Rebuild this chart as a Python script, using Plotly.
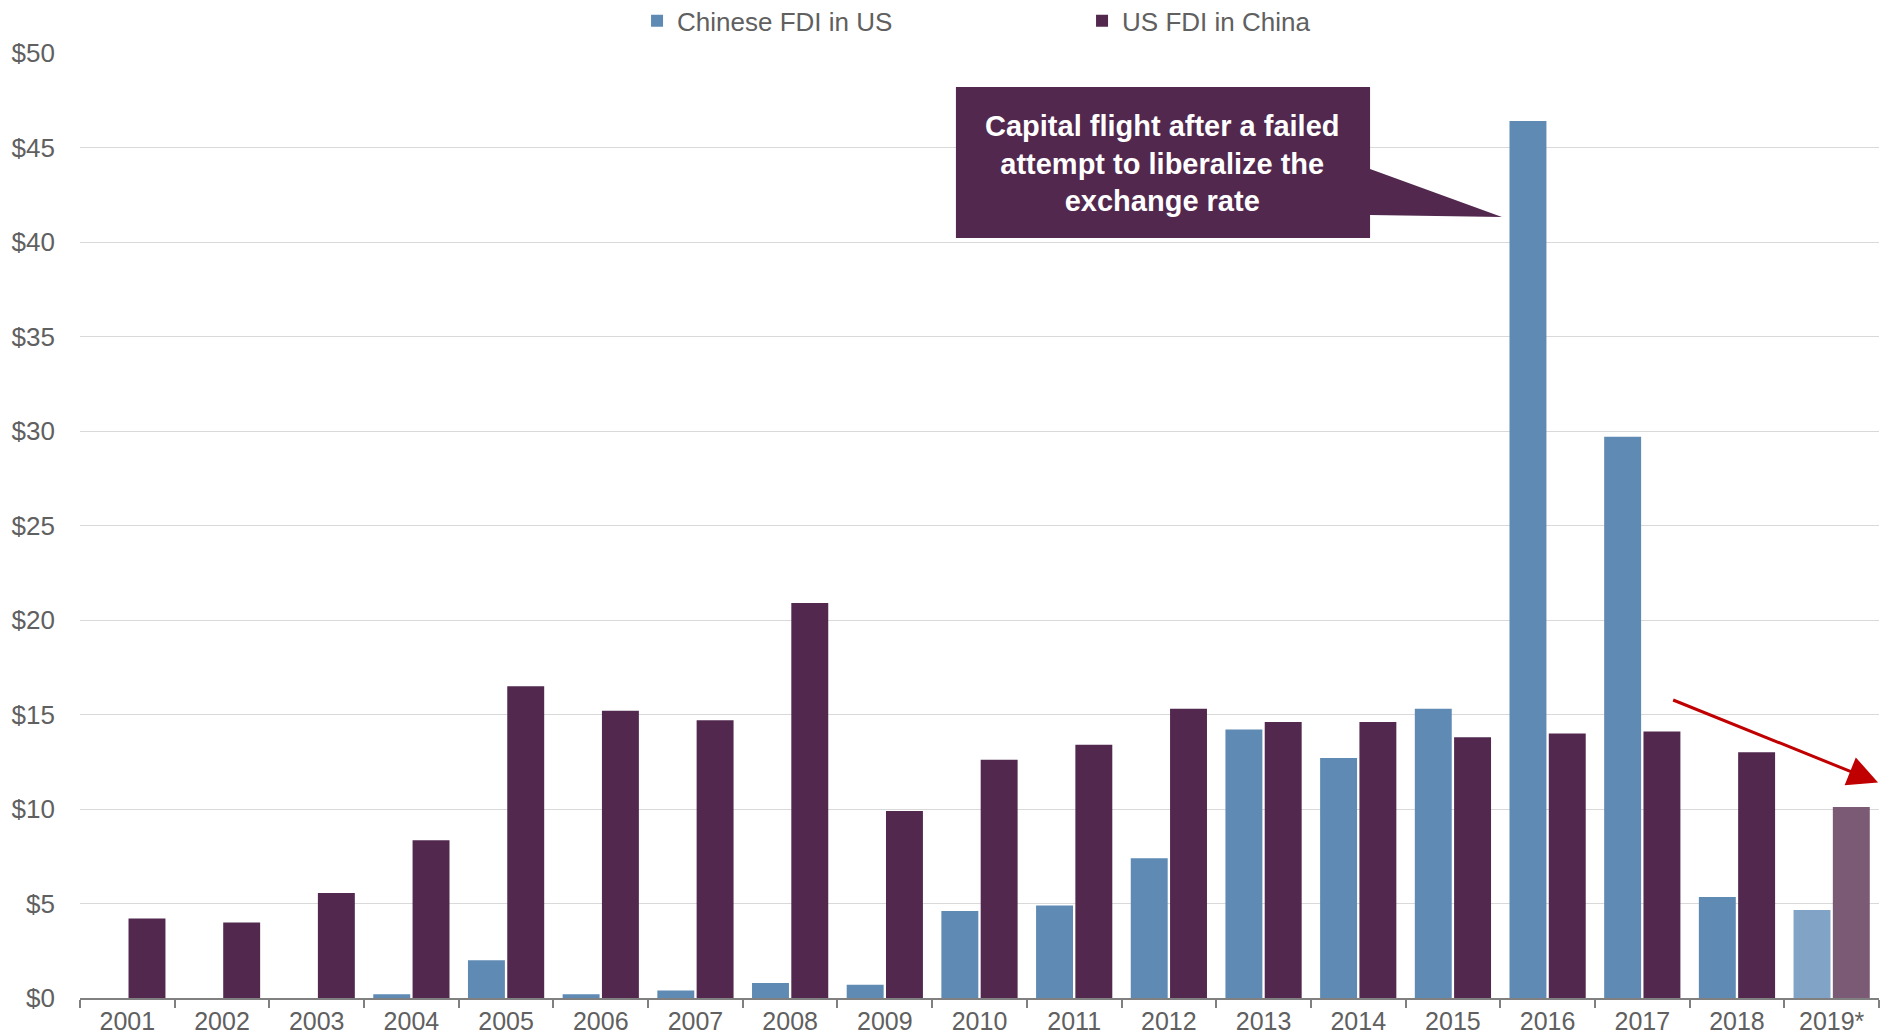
import plotly.graph_objects as go

years = ["2001", "2002", "2003", "2004", "2005", "2006", "2007", "2008", "2009", "2010",
         "2011", "2012", "2013", "2014", "2015", "2016", "2017", "2018", "2019*"]
chinese_fdi_us = [0.0, 0.0, 0.0, 0.2, 2.0, 0.2, 0.4, 0.8, 0.7, 4.6,
                  4.9, 7.4, 14.2, 12.7, 15.3, 46.4, 29.7, 5.35, 4.65]
us_fdi_china = [4.2, 4.0, 5.55, 8.35, 16.5, 15.2, 14.7, 20.9, 9.9, 12.6,
                13.4, 15.3, 14.6, 14.6, 13.8, 14.0, 14.1, 13.0, 10.1]
y_ticks = [0, 5, 10, 15, 20, 25, 30, 35, 40, 45, 50]
y_tick_labels = ["$" + str(v) for v in y_ticks]

BLUE = "#5F8AB4"
BLUE_LIGHT = "#81A4C6"
PURPLE = "#52284E"
PURPLE_LIGHT = "#7A5A75"

blue_colors = [BLUE] * (len(years) - 1) + [BLUE_LIGHT]
purple_colors = [PURPLE] * (len(years) - 1) + [PURPLE_LIGHT]

fig = go.Figure()
fig.add_trace(go.Bar(x=years, y=chinese_fdi_us, name="Chinese FDI in US",
                     marker=dict(color=blue_colors, line=dict(width=0))))
fig.add_trace(go.Bar(x=years, y=us_fdi_china, name="US FDI in China",
                     marker=dict(color=purple_colors, line=dict(width=0))))

FONT = "Liberation Sans, Arial, sans-serif"
GRAY = "#606060"

# callout box (paper coordinates)
path = ("M 0.4869,0.964 L 0.7171,0.964 L 0.7171,0.8772 L 0.7904,0.8265 "
        "L 0.7171,0.8286 L 0.7171,0.8042 L 0.4869,0.8042 Z")
fig.add_shape(type="path", path=path, xref="paper", yref="paper",
              fillcolor="#52284F", line=dict(width=0), layer="above")
fig.add_annotation(xref="paper", yref="paper", x=0.6015, y=0.8835,
                   xanchor="center", yanchor="middle",
                   text="<b>Capital flight after a failed<br>attempt to liberalize the<br>exchange rate</b>",
                   showarrow=False, align="center",
                   font=dict(family=FONT, size=29, color="white"))

# red trend arrow
fig.add_annotation(xref="x", yref="y", axref="x", ayref="y",
                   x=18.49, y=11.4, ax=16.31, ay=15.8, text="",
                   showarrow=True, arrowhead=2, arrowsize=2, arrowwidth=3,
                   arrowcolor="#C00000", standoff=0)

fig.update_layout(
    width=1892, height=1034,
    margin=dict(l=80, r=13, t=53, b=36, autoexpand=False),
    plot_bgcolor="white", paper_bgcolor="white",
    barmode="group", bargap=0.17, bargroupgap=0.06,
    font=dict(family=FONT, size=26, color=GRAY),
    legend=dict(orientation="h", x=0.557, xanchor="center", y=1.034, yanchor="middle",
                font=dict(family=FONT, size=26, color=GRAY),
                entrywidth=400, itemwidth=30, bgcolor="rgba(0,0,0,0)"),
    showlegend=True,
)
fig.update_xaxes(type="category", range=[-0.5, len(years) - 0.5], autorange=False,
                 showline=True, linecolor="#808080", linewidth=2,
                 ticks="outside", tickson="boundaries", ticklen=8, tickwidth=2,
                 tickcolor="#808080", showgrid=False,
                 tickfont=dict(family=FONT, size=25, color=GRAY))
fig.update_yaxes(range=[0, 50], tickmode="array", tickvals=y_ticks, ticktext=y_tick_labels,
                 showgrid=True, gridcolor="#D9D9D9", gridwidth=1, zeroline=False,
                 showline=False, ticks="", ticklabelstandoff=24,
                 tickfont=dict(family=FONT, size=26, color=GRAY))

fig.write_html("out.html")
